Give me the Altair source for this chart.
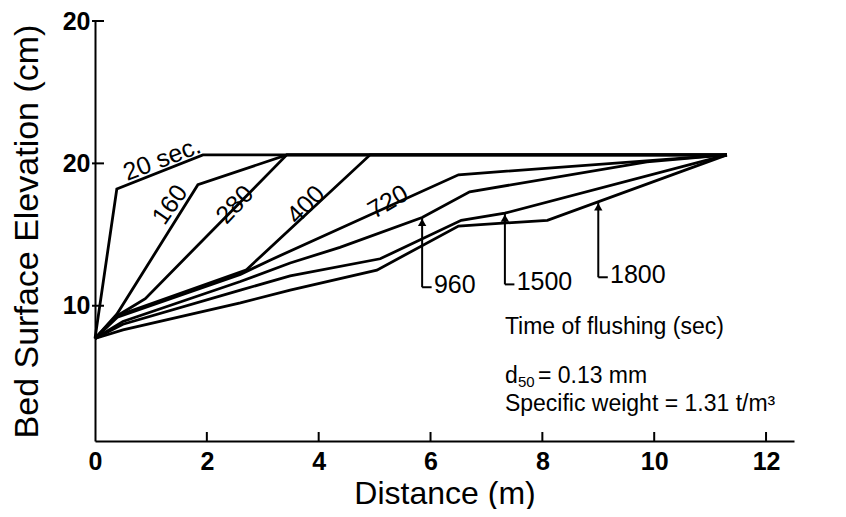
import altair as alt
import pandas as pd

# ---- series (distance m, bed elevation cm) ----
series_names = ["20 sec.", "160", "280", "400", "720", "960", "1500", "1800"]
x_20 = [0, 0.39, 1.93, 11.3]
y_20 = [7.7, 18.2, 20.6, 20.6]
x_160 = [0, 0.39, 1.84, 3.43, 11.3]
y_160 = [7.7, 9.4, 18.5, 20.6, 20.6]
x_280 = [0, 0.4, 0.9, 3.43, 11.3]
y_280 = [7.7, 9.3, 10.5, 20.6, 20.6]
x_400 = [0, 0.4, 2.7, 4.92, 11.3]
y_400 = [7.7, 9.3, 12.5, 20.6, 20.6]
x_720 = [0, 0.4, 2.6, 3.13, 6.5, 11.3]
y_720 = [7.7, 9.2, 12.2, 13.2, 19.2, 20.6]
x_960 = [0, 0.5, 2.6, 3.49, 4.38, 5.85, 6.7, 9.87, 11.3]
y_960 = [7.7, 8.9, 11.7, 13.0, 14.1, 16.2, 18.0, 20.1, 20.6]
x_1500 = [0, 0.5, 2.6, 3.49, 5.1, 6.55, 7.33, 11.3]
y_1500 = [7.7, 8.7, 11.1, 12.1, 13.3, 16.0, 16.5, 20.6]
x_1800 = [0, 0.5, 2.6, 3.49, 5.04, 6.5, 8.09, 11.3]
y_1800 = [7.7, 8.3, 10.2, 11.1, 12.5, 15.6, 16.0, 20.6]

all_x = [x_20, x_160, x_280, x_400, x_720, x_960, x_1500, x_1800]
all_y = [y_20, y_160, y_280, y_400, y_720, y_960, y_1500, y_1800]

# ---- axis ticks ----
x_ticks = [0, 2, 4, 6, 8, 10, 12]
y_ticks = [10, 20, 30]

# ---- labels written along the curves ----
curve_labels = ["20 sec.", "160", "280", "400", "720"]
curve_label_x = [1.2, 1.34, 2.5, 3.77, 5.24]
curve_label_y = [20.3, 17.1, 17.1, 17.1, 17.3]
curve_label_angle = [339, 305, 313, 314, 330]

# ---- arrow call-outs ----
arrow_labels = ["960", "1500", "1800"]
arrow_x = [5.85, 7.33, 9.0]
arrow_tip_y = [16.2, 16.5, 17.3]
arrow_base_y = [11.3, 11.5, 12.0]
hook_len = 0.17

# ---- info text block ----
info_x = 7.33
info_title = "Time of flushing (sec)"
info_title_y = 8.0
d50_y = 4.55
d50_text = "= 0.13 mm"
sw_text = "Specific weight = 1.31 t/m\u00b3"
sw_y = 2.6

FONT = "Liberation Sans"

rows = []
for name, xs, ys in zip(series_names, all_x, all_y):
    for i, (a, b) in enumerate(zip(xs, ys)):
        rows.append({"series": name, "i": i, "x": a, "y": b})
df = pd.DataFrame(rows)

X = alt.X("x:Q", scale=alt.Scale(domain=[0, 12.5], nice=False, zero=False),
          axis=alt.Axis(values=x_ticks, title="Distance (m)", labelFlush=False,
                        labelPadding=8, titlePadding=4, titleFontSize=32))
Y = alt.Y("y:Q", scale=alt.Scale(domain=[0.5, 30], nice=False, zero=False),
          axis=alt.Axis(values=y_ticks, title="Bed Surface Elevation (cm)",
                        labelExpr="datum.value == 30 ? '20' : datum.label",
                        labelPadding=5, titlePadding=18))

lines = alt.Chart(df).mark_line(color="black", strokeWidth=2.8).encode(
    x=X, y=Y, detail="series:N", order="i:Q")

xt = alt.Chart(pd.DataFrame({"x": x_ticks[1:]})).mark_rule(color="black", strokeWidth=2).encode(
    x=X, y=alt.value(420), y2=alt.value(411))
yt = alt.Chart(pd.DataFrame({"y": y_ticks})).mark_rule(color="black", strokeWidth=2).encode(
    y=Y, x=alt.value(-3), x2=alt.value(9))

cl = alt.Chart(pd.DataFrame({"x": curve_label_x, "y": curve_label_y, "t": curve_labels,
                             "a": curve_label_angle})).mark_text(
    font=FONT, fontSize=25, color="black", align="center", baseline="middle").encode(
    x=X, y=Y, text="t:N", angle=alt.Angle("a:Q", scale=None))

vert_df = pd.DataFrame({"x": arrow_x, "y": arrow_tip_y, "y2": arrow_base_y})
hook_df = pd.DataFrame({"x": arrow_x, "x2": [v + hook_len for v in arrow_x], "y": arrow_base_y})
lab_df = pd.DataFrame({"x": [v + hook_len + 0.04 for v in arrow_x],
                       "y": [v + 0.15 for v in arrow_base_y], "t": arrow_labels})

avert = alt.Chart(vert_df).mark_rule(color="black", strokeWidth=2).encode(x=X, y=Y, y2="y2:Q")
ahook = alt.Chart(hook_df).mark_rule(color="black", strokeWidth=2).encode(x=X, x2="x2:Q", y=Y)
ahead = alt.Chart(vert_df).mark_point(shape="triangle-up", filled=True, color="black", size=70,
                                      opacity=1, yOffset=5).encode(x=X, y=Y)
atext = alt.Chart(lab_df).mark_text(font=FONT, fontSize=25, color="black", align="left",
                                    baseline="middle").encode(x=X, y=Y, text="t:N")


def info_text(txt, yv, size=23, dx=0, dy=0):
    return alt.Chart(pd.DataFrame({"x": [info_x], "y": [yv], "t": [txt]})).mark_text(
        font=FONT, fontSize=size, color="black", align="left", baseline="alphabetic",
        dx=dx, dy=dy).encode(x=X, y=Y, text="t:N")


t1 = info_text(info_title, info_title_y)
t2 = info_text("d", d50_y)
t3 = info_text("50", d50_y, size=15, dx=13, dy=4)
t4 = info_text(d50_text, d50_y, dx=33)
t5 = info_text(sw_text, sw_y)

chart = alt.layer(lines, xt, yt, cl, avert, ahook, ahead, atext, t1, t2, t3, t4, t5).properties(
    width=699, height=420,
    autosize=alt.AutoSizeParams(type="none"),
    padding={"left": 87, "top": 13, "right": 40, "bottom": 68},
).configure_axis(
    domainColor="black", domainWidth=2, ticks=False, grid=False,
    labelFont=FONT, labelFontSize=25, labelFontWeight="bold", labelColor="black",
    titleFont=FONT, titleFontSize=34, titleFontWeight="normal", titleColor="black",
).configure_view(stroke=None)

chart.save("out.html", embed_options={"renderer": "svg", "actions": False})
